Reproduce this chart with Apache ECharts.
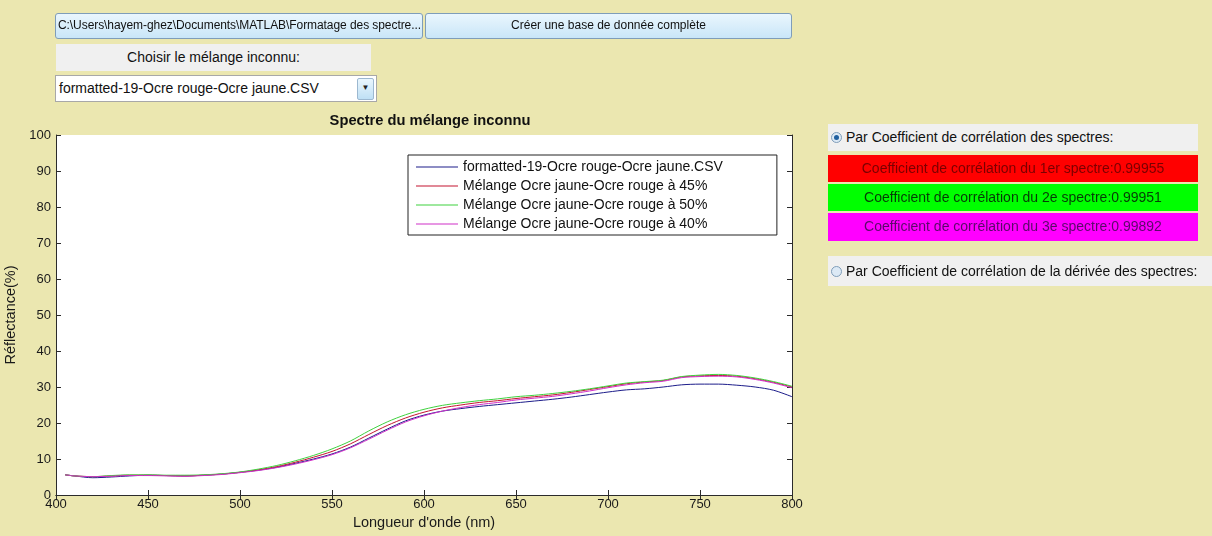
<!DOCTYPE html>
<html>
<head>
<meta charset="utf-8">
<script src="https://cdn.jsdelivr.net/npm/echarts@6/dist/echarts.min.js"></script>
<style>
  html, body { margin: 0; padding: 0; width: 1212px; height: 536px; overflow: hidden; background: #ebe7b0; font-family: "Liberation Sans", Arial, sans-serif; }
  #main { position: absolute; left: 0; top: 0; width: 1212px; height: 536px; }
  .ui { position: absolute; box-sizing: border-box; white-space: nowrap; overflow: hidden; color: #111; }
  .btn { background: linear-gradient(#eaf6fd, #c9e6f8); border: 1px solid #7f9db9; border-radius: 3px; font-size: 12px; line-height: 23px; }
  .lbl { background: #f0f0f0; font-size: 14px; }
  .drop { background: #fff; border: 1px solid #a8a8a8; font-size: 14px; line-height: 24px; padding-left: 3px; }
  .arrow { position: absolute; right: 2px; top: 2px; width: 15px; height: 20px; background: linear-gradient(#eaf6fd, #bfe0f5); border: 1px solid #9cb8d0; border-radius: 2px; font-size: 8px; line-height: 18px; text-align: center; color: #222; }
  .radio { display: inline-block; width: 9px; height: 9px; border-radius: 50%; border: 1px solid #7f9db9; background: #dce9f5; margin: 0 4px 0 3px; vertical-align: -1px; position: relative; }
  .radio.on::after { content: ""; position: absolute; left: 2px; top: 2px; width: 5px; height: 5px; border-radius: 50%; background: #1f5f9f; }
  .coef { font-size: 14px; text-align: center; line-height: 27px; }
</style>
</head>
<body>
<div id="main"></div>

<div class="ui btn" style="left:55px;top:13px;width:368px;height:26px;padding-left:2px;letter-spacing:-0.07px;">C:\Users\hayem-ghez\Documents\MATLAB\Formatage des spectre...</div>
<div class="ui btn" style="left:425px;top:13px;width:367px;height:26px;text-align:center;">Créer une base de donnée complète</div>
<div class="ui lbl" style="left:56px;top:44px;width:315px;height:27px;line-height:27px;text-align:center;">Choisir le mélange inconnu:</div>
<div class="ui drop" style="left:55px;top:75px;width:322px;height:27px;">formatted-19-Ocre rouge-Ocre jaune.CSV<div class="arrow">&#9660;</div></div>

<div class="ui lbl" style="left:828px;top:124px;width:370px;height:27px;line-height:27px;"><span class="radio on"></span>Par Coefficient de corrélation des spectres:</div>
<div class="ui coef" style="left:828px;top:155px;width:370px;height:27px;background:#ff0000;color:#7a0000;">Coefficient de corrélation du 1er spectre:0.99955</div>
<div class="ui coef" style="left:828px;top:184px;width:370px;height:27px;background:#00ff00;color:#063c06;">Coefficient de corrélation du 2e spectre:0.99951</div>
<div class="ui coef" style="left:828px;top:213px;width:370px;height:28px;background:#ff00ff;color:#5a0a6a;">Coefficient de corrélation du 3e spectre:0.99892</div>
<div class="ui lbl" style="left:828px;top:256px;width:384px;height:30px;line-height:30px;"><span class="radio"></span>Par Coefficient de corrélation de la dérivée des spectres:</div>

<script>
var wavelengths = [405, 410, 420, 430, 440, 450, 460, 470, 480, 490, 500, 510, 520, 530, 540, 550, 560, 570, 580, 590, 600,
                   610, 620, 630, 640, 650, 660, 670, 680, 690, 700, 710, 720, 730, 740, 750, 760, 770, 780, 790, 800];

var seriesNames = ['formatted-19-Ocre rouge-Ocre jaune.CSV', 'Mélange Ocre jaune-Ocre rouge à 45%',
                   'Mélange Ocre jaune-Ocre rouge à 50%', 'Mélange Ocre jaune-Ocre rouge à 40%'];

var inconnu = [5.6, 5.3, 4.8, 5.0, 5.3, 5.5, 5.4, 5.3, 5.5, 5.8, 6.3, 6.9, 7.7, 8.8, 10.0, 11.4, 13.3, 15.8, 18.3, 20.6, 22.2,
               23.3, 24.0, 24.6, 25.1, 25.6, 26.1, 26.6, 27.2, 27.9, 28.6, 29.2, 29.5, 30.0, 30.6, 30.8, 30.8, 30.5, 30.0, 29.1, 27.3];
var melange45 = [5.6, 5.3, 5.1, 5.3, 5.5, 5.5, 5.4, 5.3, 5.5, 5.8, 6.3, 7.0, 7.9, 9.1, 10.5, 12.1, 14.2, 16.8, 19.3, 21.4, 23.0,
                 24.2, 25.0, 25.7, 26.2, 26.8, 27.3, 27.8, 28.5, 29.3, 30.1, 30.9, 31.4, 31.8, 32.8, 33.1, 33.2, 33.0, 32.3, 31.3, 30.0];
var melange50 = [5.6, 5.3, 5.1, 5.4, 5.6, 5.6, 5.5, 5.5, 5.6, 5.9, 6.4, 7.2, 8.2, 9.5, 11.0, 12.8, 15.0, 17.8, 20.3, 22.3, 23.8,
                 24.9, 25.6, 26.2, 26.7, 27.3, 27.7, 28.2, 28.8, 29.5, 30.3, 31.1, 31.5, 31.9, 32.9, 33.3, 33.5, 33.2, 32.5, 31.5, 30.2];
var melange40 = [5.6, 5.3, 5.1, 5.2, 5.4, 5.4, 5.3, 5.2, 5.4, 5.7, 6.2, 6.8, 7.6, 8.6, 9.8, 11.2, 13.1, 15.5, 18.0, 20.3, 22.0,
                 23.3, 24.3, 25.1, 25.7, 26.4, 26.9, 27.4, 28.1, 28.9, 29.8, 30.6, 31.2, 31.6, 32.6, 32.9, 33.0, 32.8, 32.1, 31.1, 29.8];

var colors = ['#1c1c8a', '#c41530', '#3fd23f', '#d030c8'];
var allValues = [inconnu, melange45, melange50, melange40];

function pairs(values) {
    return wavelengths.map(function(w, i) { return [w, values[i]]; });
}

var chart = echarts.init(document.getElementById('main'));
var axisCol = '#2b2b2b';
var txt = { fontFamily: 'Liberation Sans', fontSize: 13, color: '#1a1a1a' };

option = {
    animation: false,
    title: {
        text: 'Spectre du mélange inconnu',
        left: 425, top: 108, textAlign: 'center',
        textStyle: { fontFamily: 'Liberation Sans', fontSize: 14.7, fontWeight: 'bold', color: '#111' }
    },
    legend: {
        orient: 'vertical',
        left: 408, top: 155,
        padding: [5, 54, 4, 8],
        icon: 'rect',
        itemWidth: 42, itemHeight: 1, itemGap: 5,
        backgroundColor: '#fff',
        borderColor: '#222', borderWidth: 1,
        textStyle: { fontFamily: 'Liberation Sans', fontSize: 14, color: '#111', padding: [0, 0, 0, 0] },
        data: seriesNames
    },
    grid: { left: 56, top: 135, width: 736, height: 360, show: true, backgroundColor: '#fff', borderWidth: 0,
            containLabel: false, outerBoundsMode: 'none' },
    xAxis: [{
        type: 'value', min: 400, max: 800, interval: 50,
        name: "Longueur d'onde (nm)", nameLocation: 'middle', nameGap: 19,
        nameTextStyle: { fontFamily: 'Liberation Sans', fontSize: 14.5, color: '#1a1a1a' },
        axisLine: { lineStyle: { color: axisCol } },
        axisTick: { inside: true, length: 5, lineStyle: { color: axisCol } },
        axisLabel: Object.assign({ margin: 3 }, txt),
        splitLine: { show: false }
    }, {
        type: 'value', min: 400, max: 800, interval: 50, position: 'top',
        axisLine: { lineStyle: { color: axisCol } },
        axisTick: { inside: true, length: 5, lineStyle: { color: axisCol } },
        axisLabel: { show: false }, splitLine: { show: false }
    }],
    yAxis: [{
        type: 'value', min: 0, max: 100, interval: 10,
        name: 'Réflectance(%)', nameLocation: 'middle', nameGap: 34,
        nameTextStyle: { fontFamily: 'Liberation Sans', fontSize: 14.5, color: '#1a1a1a' },
        axisLine: { show: true, lineStyle: { color: axisCol } },
        axisTick: { show: true, inside: true, length: 5, lineStyle: { color: axisCol } },
        axisLabel: Object.assign({ margin: 5 }, txt),
        splitLine: { show: false }
    }, {
        type: 'value', min: 0, max: 100, interval: 10, position: 'right',
        axisLine: { show: true, lineStyle: { color: axisCol } },
        axisTick: { show: true, inside: true, length: 5, lineStyle: { color: axisCol } },
        axisLabel: { show: false }, splitLine: { show: false }
    }],
    series: seriesNames.map(function(name, i) {
        return {
            name: name,
            type: 'line',
            xAxisIndex: 0, yAxisIndex: 0,
            symbol: 'none',
            smooth: 0.3,
            color: colors[i],
            lineStyle: { width: 1, color: colors[i] },
            data: pairs(allValues[i])
        };
    })
};

chart.setOption(option);
</script>
</body>
</html>
